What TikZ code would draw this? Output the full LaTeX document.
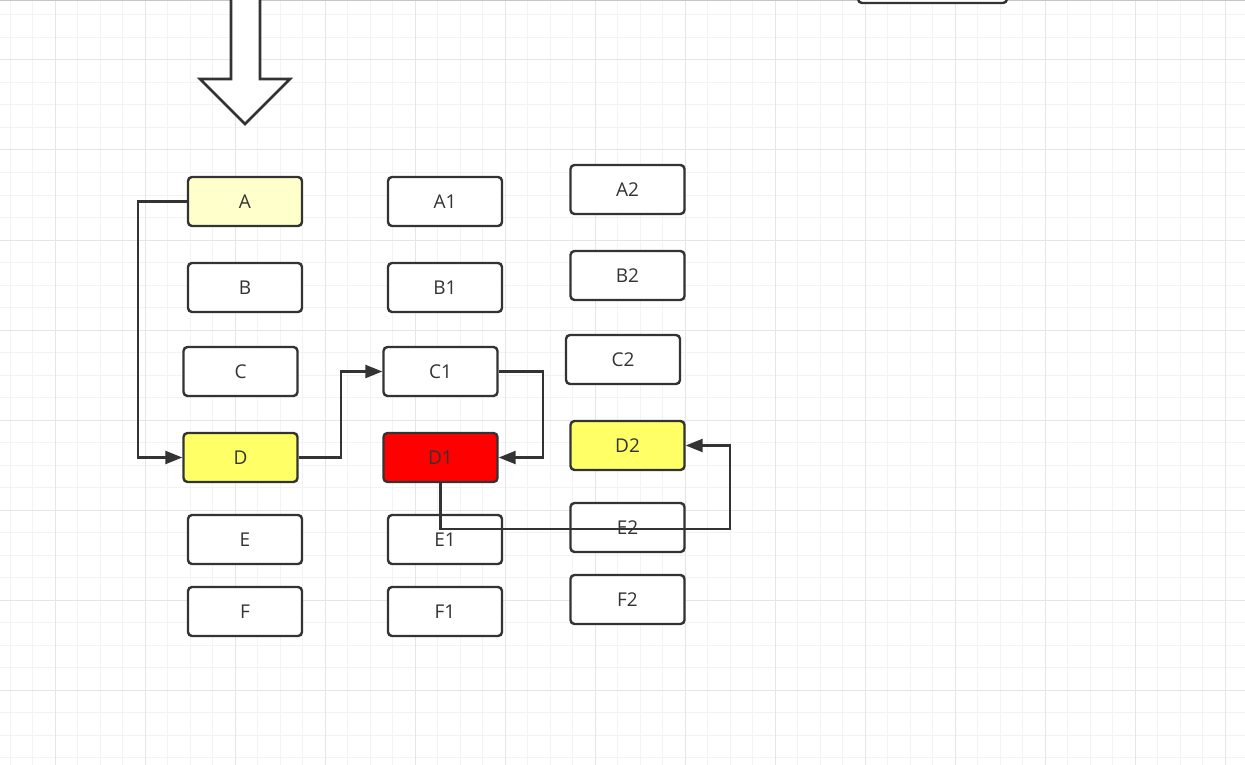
\documentclass[tikz,border=0pt]{standalone}
\usepackage{fontspec}
\setmainfont{Open Sans}
\usetikzlibrary{arrows.meta}
\definecolor{ink}{HTML}{333333}
\definecolor{gridminor}{HTML}{F3F3F3}
\definecolor{gridmajor}{HTML}{E6E6E6}
\definecolor{paleyellow}{HTML}{FFFFCC}
\definecolor{brightyellow}{HTML}{FFFF66}
\definecolor{boxred}{HTML}{FF0000}
\begin{document}
\begin{tikzpicture}[x=1pt,y=-1pt,
  box/.style={draw=ink, line width=2.4pt, rounded corners=4pt, fill=white,
    minimum width=114pt, minimum height=49pt, inner sep=0pt, text=ink,
    font=\fontsize{19}{21}\selectfont},
  conn/.style={draw=ink, line width=2.4pt, -{Triangle[length=17pt,width=13pt]}},
  plain/.style={draw=ink, line width=2.6pt}]
\useasboundingbox (0,0) rectangle (1245,765);
\fill[white] (0,0) rectangle (1245,765);
% grid
\foreach \i in {0,...,55} {
  \pgfmathsetmacro\xx{10+22.5*\i}
  \draw[gridminor, line width=1pt] (\xx,0) -- (\xx,765);
}
\foreach \i in {0,...,34} {
  \pgfmathsetmacro\yy{15+22.5*\i}
  \draw[gridminor, line width=1pt] (0,\yy) -- (1245,\yy);
}
\foreach \i in {0,...,13} {
  \pgfmathsetmacro\xx{55+90*\i}
  \draw[gridmajor, line width=1pt] (\xx,0) -- (\xx,765);
}
\foreach \i in {0,...,8} {
  \pgfmathsetmacro\yy{60+90*\i}
  \draw[gridmajor, line width=1pt] (0,\yy) -- (1245,\yy);
}
\draw[gray!45, line width=1pt] (0,1) -- (1245,1);
% partial box at top right
\node[box, minimum width=149pt, minimum height=40pt] (top) at (932.5,-17) {};
% big hollow arrow
\draw[plain, fill=white, line join=miter] (231,-5) -- (231,79) -- (200,79) -- (245,124) -- (290,79) -- (260,79) -- (260,-5);
% column 1
\node[box, fill=paleyellow] (A) at (245,201.5) {A};
\node[box] (B) at (245,287.5) {B};
\node[box] (C) at (240.5,371.5) {C};
\node[box, fill=brightyellow] (D) at (240.5,457.5) {D};
\node[box] (E) at (245,539.5) {E};
\node[box] (F) at (245,611.5) {F};
% column 2
\node[box] (A1) at (445,201.5) {A1};
\node[box] (B1) at (445,287.5) {B1};
\node[box] (C1) at (440.5,371.5) {C1};
\node[box, fill=boxred] (D1) at (440.5,457.5) {D1};
\node[box] (E1) at (445,539.5) {E1};
\node[box] (F1) at (445,611.5) {F1};
% column 3
\node[box] (A2) at (627.5,189.5) {A2};
\node[box] (B2) at (627.5,275.5) {B2};
\node[box] (C2) at (623,359.5) {C2};
\node[box, fill=brightyellow] (D2) at (627.5,445.5) {D2};
\node[box] (E2) at (627.5,527.5) {E2};
\node[box] (F2) at (627.5,599.5) {F2};
% connectors
\draw[conn] (A.west) -- ++(-49,0) |- (D.west);
\draw[conn] (D.east) -- ++(42,0) |- (C1.west);
\draw[conn] (C1.east) -- ++(44,0) |- (D1.east);
\coordinate (k) at (730,529);
\draw[conn] (D1.south) |- (k) |- (D2.east);
\end{tikzpicture}
\end{document}
